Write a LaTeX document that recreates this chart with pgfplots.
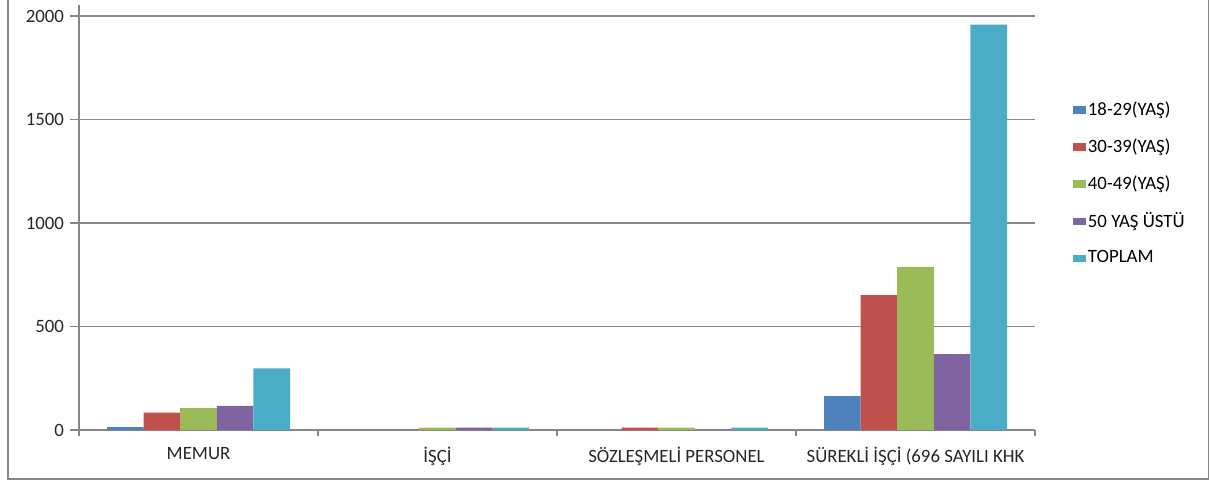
\documentclass[border=0pt]{standalone}
\usepackage{pgfplots}
\pgfplotsset{compat=1.18}
\usepackage{fontspec}
\setmainfont{Carlito}
\definecolor{c1}{HTML}{4F81BD}
\definecolor{c2}{HTML}{C0504D}
\definecolor{c3}{HTML}{9BBB59}
\definecolor{c4}{HTML}{8064A2}
\definecolor{c5}{HTML}{4BACC6}
\definecolor{axgray}{HTML}{868686}
\begin{document}
\begin{tikzpicture}
  \useasboundingbox (0,0) rectangle (605pt,241pt);
  \draw[axgray,line width=0.8pt] (4pt,241pt) -- (4pt,1.5pt) -- (604.3pt,1.5pt) -- (604.3pt,241pt);
  \begin{axis}[
      at={(39.5pt,26pt)}, anchor=south west,
      scale only axis,
      width=478pt, height=212.5pt,
      font=\fontsize{9.4}{11}\selectfont,
      ybar=0pt, bar width=18.3pt,
      xmin=-0.5, xmax=3.5,
      ymin=0, ymax=2053,
      xtick={0,1,2,3},
      xticklabels={MEMUR, İŞÇİ, SÖZLEŞMELİ PERSONEL, SÜREKLİ İŞÇİ (696 SAYILI KHK},
      minor xtick={-0.5,0.5,1.5,2.5,3.5},
      ytick={0,500,1000,1500,2000},
      /pgf/number format/assume math mode=true,
      /pgf/number format/1000 sep={},
      scaled y ticks=false,
      axis x line*=bottom, axis y line*=left,
      axis line style={axgray, line width=0.8pt},
      ymajorgrids,
      major grid style={axgray, line width=0.8pt},
      tick align=outside,
      major tick length=4.5pt, minor tick length=3pt,
      xtick style={draw=none},
      minor x tick style={draw=axgray, line width=0.8pt},
      ytick style={axgray, line width=0.8pt},
      yticklabel style={xshift=0.5pt},
      xticklabel style={yshift=-0.5pt},
      tick label style={text=black!85},
      legend style={at={(1.0397,0.783)}, anchor=north west, draw=none,
        fill=none, font=\fontsize{9.4}{11}\selectfont, row sep=6.1pt,
        legend cell align=left, inner sep=0pt,
        nodes={inner xsep=1pt}},
      legend image code/.code={\fill[#1,draw=none] (0pt,-1.9pt) rectangle (6.3pt,1.9pt);},
    ]
    \addplot[fill=c1, draw=none] coordinates {(0,14) (1,0) (2,0) (3,164)};
    \addplot[fill=c2, draw=none] coordinates {(0,84) (1,0) (2,12) (3,652)};
    \addplot[fill=c3, draw=none] coordinates {(0,106) (1,11) (2,12) (3,788)};
    \addplot[fill=c4, draw=none] coordinates {(0,117) (1,12) (2,0) (3,367)};
    \addplot[fill=c5, draw=none] coordinates {(0,298) (1,12) (2,12) (3,1958)};
    \legend{18-29(YAŞ), 30-39(YAŞ), 40-49(YAŞ), 50 YAŞ ÜSTÜ, TOPLAM}
  \end{axis}
\end{tikzpicture}
\end{document}
